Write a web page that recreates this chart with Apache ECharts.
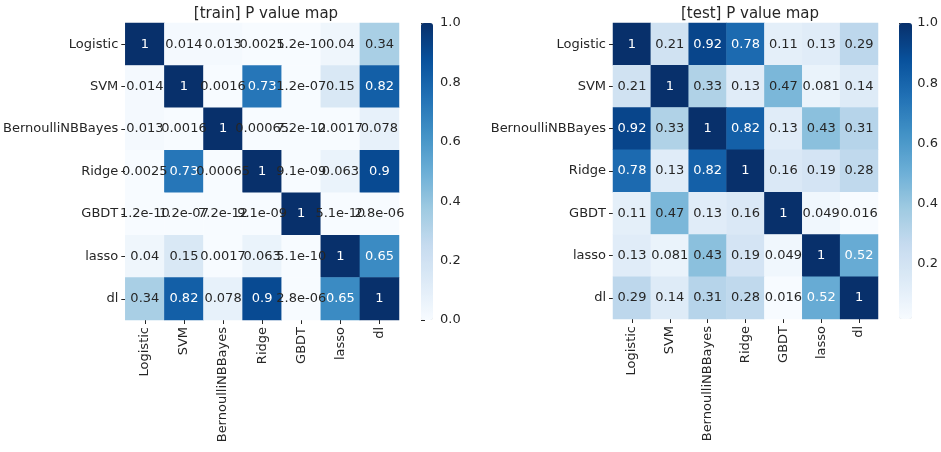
<!DOCTYPE html>
<html>
<head>
<meta charset="utf-8">
<script src="https://cdn.jsdelivr.net/npm/echarts@6/dist/echarts.min.js"></script>
<style>
html, body { margin: 0; padding: 0; background: #fff; }
#chart { width: 941px; height: 452px; }
</style>
</head>
<body>
<div id="chart"></div>
<script>
// two p-value heatmaps side by side, seaborn "Blues" look

var models = ['Logistic', 'SVM', 'BernoulliNBBayes', 'Ridge', 'GBDT', 'lasso', 'dl'];

var trainP = [
    [1, 0.014, 0.013, 0.0025, 1.2e-10, 0.04, 0.34],
    [0.014, 1, 0.0016, 0.73, 1.2e-07, 0.15, 0.82],
    [0.013, 0.0016, 1, 0.00065, 7.2e-12, 0.0017, 0.078],
    [0.0025, 0.73, 0.00065, 1, 9.1e-09, 0.063, 0.9],
    [1.2e-10, 1.2e-07, 7.2e-12, 9.1e-09, 1, 5.1e-10, 2.8e-06],
    [0.04, 0.15, 0.0017, 0.063, 5.1e-10, 1, 0.65],
    [0.34, 0.82, 0.078, 0.9, 2.8e-06, 0.65, 1]
];

var testP = [
    [1, 0.21, 0.92, 0.78, 0.11, 0.13, 0.29],
    [0.21, 1, 0.33, 0.13, 0.47, 0.081, 0.14],
    [0.92, 0.33, 1, 0.82, 0.13, 0.43, 0.31],
    [0.78, 0.13, 0.82, 1, 0.16, 0.19, 0.28],
    [0.11, 0.47, 0.13, 0.16, 1, 0.049, 0.016],
    [0.13, 0.081, 0.43, 0.19, 0.049, 1, 0.52],
    [0.29, 0.14, 0.31, 0.28, 0.016, 0.52, 1]
];

var trainRange = [0, 1];
var testRange = [0.016, 1];
var trainTicks = [0, 0.2, 0.4, 0.6, 0.8, 1.0];
var testTicks = [0.2, 0.4, 0.6, 0.8, 1.0];

var blues = ['#f7fbff', '#deebf7', '#c6dbef', '#9ecae1', '#6baed6', '#4292c6', '#2171b5', '#08519c', '#08306b'];
var font = 'DejaVu Sans';
var ink = '#262626';
var fs = 13;

// like python's '{:.2g}'
function fmt(v) {
    if (v !== 0 && Math.abs(v) < 1e-4) {
        var s = v.toExponential(1).split('e');
        var ex = parseInt(s[1], 10);
        var sign = ex < 0 ? '-' : '+';
        var n = Math.abs(ex);
        return s[0] + 'e' + sign + (n < 10 ? '0' + n : n);
    }
    return String(Number(v.toPrecision(2)));
}

function cells(mat, range) {
    var out = [];
    for (var r = 0; r < mat.length; r++) {
        for (var c = 0; c < mat[r].length; c++) {
            var v = mat[r][c];
            var t = (v - range[0]) / (range[1] - range[0]);
            out.push({
                value: [c, r, v],
                label: { color: t > 0.5 ? '#ffffff' : ink }
            });
        }
    }
    return out;
}

var grids = [
    { left: 123, top: 23, width: 276, height: 297 },
    { left: 613, top: 23, width: 265, height: 296 },
    { left: 421, top: 23, width: 12, height: 297 },
    { left: 899, top: 23, width: 13, height: 296 }
];

function catX(i) {
    return {
        type: 'category', gridIndex: i, data: models,
        axisLine: { show: false },
        axisTick: { show: true, alignWithLabel: true, length: 4, lineStyle: { color: ink } },
        axisLabel: { rotate: 90, margin: 7, color: ink, fontSize: fs, fontFamily: font },
        splitLine: { show: false }
    };
}
function catY(i) {
    return {
        type: 'category', gridIndex: i, data: models, inverse: true,
        axisLine: { show: false },
        axisTick: { show: true, alignWithLabel: true, length: 4, lineStyle: { color: ink } },
        axisLabel: { margin: 7, color: ink, fontSize: fs, fontFamily: font },
        splitLine: { show: false }
    };
}
function barY(i, range, ticks) {
    return {
        type: 'value', gridIndex: i, position: 'right',
        min: range[0], max: range[1],
        axisLine: { show: false },
        splitLine: { show: false },
        axisTick: { show: true, length: 4, lineStyle: { color: ink }, customValues: ticks },
        axisLabel: {
            margin: 7, color: ink, fontSize: fs, fontFamily: font,
            customValues: ticks,
            formatter: function (v) { return v.toFixed(1); }
        }
    };
}

function heat(i, mat, range) {
    return {
        type: 'heatmap',
        xAxisIndex: i, yAxisIndex: i,
        data: cells(mat, range),
        label: {
            show: true, fontSize: fs, fontFamily: font,
            formatter: function (p) { return fmt(p.value[2]); }
        },
        itemStyle: { borderWidth: 0 },
        emphasis: { disabled: true }
    };
}

function bar(i, range, g) {
    return {
        type: 'continuous', seriesIndex: i, dimension: 2,
        min: range[0], max: range[1],
        inRange: { color: blues },
        left: g.left, top: g.top,
        itemWidth: g.width, itemHeight: g.height,
        padding: 0, text: ['', ''], calculable: false, hoverLink: false
    };
}

var chart = echarts.init(document.getElementById('chart'));
var option = {
    backgroundColor: '#ffffff',
    animation: false,
    title: [
        { text: '[train] P value map', left: 261, top: 2, textAlign: 'center',
          textStyle: { fontSize: 15, fontWeight: 'normal', color: ink, fontFamily: font } },
        { text: '[test] P value map', left: 745, top: 2, textAlign: 'center',
          textStyle: { fontSize: 15, fontWeight: 'normal', color: ink, fontFamily: font } }
    ],
    grid: grids,
    xAxis: [
        catX(0), catX(1),
        { type: 'value', gridIndex: 2, show: false, min: 0, max: 1 },
        { type: 'value', gridIndex: 3, show: false, min: 0, max: 1 }
    ],
    yAxis: [
        catY(0), catY(1),
        barY(2, trainRange, trainTicks),
        barY(3, testRange, testTicks)
    ],
    visualMap: [
        bar(0, trainRange, grids[2]),
        bar(1, testRange, grids[3])
    ],
    series: [
        heat(0, trainP, trainRange),
        heat(1, testP, testRange)
    ]
};
chart.setOption(option);
</script>
</body>
</html>
